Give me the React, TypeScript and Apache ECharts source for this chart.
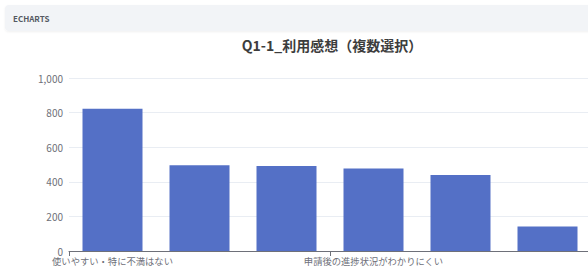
import React, { useEffect, useRef } from "react";
import * as echarts from "echarts";

const titleText = "Q1-1_利用感想（複数選択）";
const categories = [
  "使いやすい・特に不満はない",
  "申請方法がわかりにくい",
  "入力項目が多い",
  "申請後の進捗状況がわかりにくい",
  "画面が見づらい",
  "その他",
];
const counts = [822, 496, 492, 477, 440, 142];

const font = "'Noto Sans CJK JP', 'Noto Sans', sans-serif";

export default function App() {
  const ref = useRef<HTMLDivElement>(null);
  useEffect(() => {
    if (!ref.current) return;
    const chart = echarts.init(ref.current, undefined, { renderer: "svg" });
    chart.setOption({
      animation: false,
      textStyle: { fontFamily: font },
      graphic: [
        {
          type: "rect",
          shape: { x: 5, y: 5, width: 620, height: 26, r: 4 },
          style: { fill: "#f2f4f7", shadowColor: "rgba(0,0,0,0.06)", shadowBlur: 2, shadowOffsetY: 1 },
          z: 0,
        },
        {
          type: "text",
          x: 13,
          y: 18,
          style: {
            text: "ECHARTS",
            fontSize: 8,
            fontWeight: "bold",
            fill: "#555a62",
            fontFamily: font,
            verticalAlign: "middle",
          },
          z: 1,
        },
      ],
      title: {
        text: titleText,
        left: 327,
        top: 33,
        textAlign: "center",
        textStyle: { fontSize: 14, fontWeight: "bold", color: "#3d3d3d", fontFamily: font },
      },
      grid: { left: 69, right: 9, top: 78, bottom: 15 },
      xAxis: {
        type: "category",
        data: categories,
        axisLine: { lineStyle: { color: "#6e7079" } },
        axisTick: { show: true },
        axisLabel: { interval: 2, fontSize: 9.3, lineHeight: 9, color: "#6e7079", margin: 5, fontFamily: font },
      },
      yAxis: {
        type: "value",
        min: 0,
        max: 1000,
        interval: 200,
        axisLabel: { fontSize: 10, lineHeight: 8, color: "#6e7079", margin: 6, fontFamily: font },
        splitLine: { lineStyle: { color: "#e9edf3" } },
      },
      series: [
        {
          type: "bar",
          data: counts,
          barWidth: 60,
          itemStyle: { color: "#5470c6" },
        },
      ],
    });
    return () => chart.dispose();
  }, []);
  return (
    <div style={{ position: "fixed", left: 0, top: 0, width: 588, height: 266, overflow: "hidden", background: "#fff" }}>
      <div ref={ref} style={{ width: 600, height: 266 }} />
    </div>
  );
}
